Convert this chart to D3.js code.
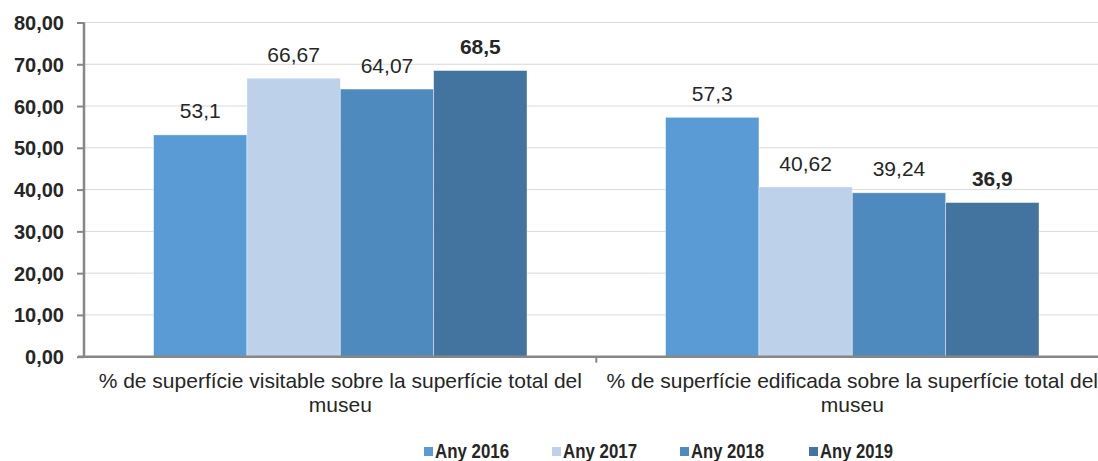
<!DOCTYPE html>
<html><head><meta charset="utf-8">
<script src="https://cdn.jsdelivr.net/npm/d3@7"></script>
<style>
html,body{margin:0;padding:0;background:#fff;}
svg{display:block;font-family:"Liberation Sans",Arial,sans-serif;}
</style></head>
<body>
<svg id="c" width="1098" height="461"></svg>
<script>
const categories = ["% de superfície visitable sobre la superfície total del museu",
                    "% de superfície edificada sobre la superfície total del museu"];
const categoryLines = [["% de superfície visitable sobre la superfície total del", "museu"],
                       ["% de superfície edificada sobre la superfície total del", "museu"]];
const years = ["Any 2016", "Any 2017", "Any 2018", "Any 2019"];
const values2016 = [53.1, 57.3];
const values2017 = [66.67, 40.62];
const values2018 = [64.07, 39.24];
const values2019 = [68.5, 36.9];
const yTicks = [0, 10, 20, 30, 40, 50, 60, 70, 80];
const colors = ["#5B9BD5", "#BDD1EA", "#4F8ABE", "#43739F"];
const boldSeries = [false, false, false, true];

const series = [values2016, values2017, values2018, values2019];
const svg = d3.select("#c");
const W = 1098;
const x0 = d3.scaleBand().domain(categories).range([84.3, 1108.3]);
const x1 = d3.scaleBand().domain(years).range([69.3, x0.bandwidth() - 69.3]);
const y = d3.scaleLinear().domain([0, 80]).range([356.7, 22.5]);

// gridlines
svg.append("g").selectAll("line").data(yTicks.filter(d => d > 0)).join("line")
  .attr("x1", 84).attr("x2", W).attr("y1", d => y(d)).attr("y2", d => y(d))
  .attr("stroke", "#D9D9D9").attr("stroke-width", 1);

// bars
const groups = svg.append("g").selectAll("g").data(categories).join("g")
  .attr("transform", d => `translate(${x0(d)},0)`);
groups.each(function(cat, ci) {
  const g = d3.select(this);
  years.forEach((yr, si) => {
    const v = series[si][ci];
    g.append("rect")
      .attr("x", x1(yr)).attr("width", x1.bandwidth())
      .attr("y", y(v)).attr("height", y(0) - y(v))
      .attr("fill", colors[si]).attr("stroke", "rgba(255,255,255,0.5)").attr("stroke-width", 0.8);
    g.append("text")
      .attr("x", x1(yr) + x1.bandwidth() / 2).attr("y", y(v) - 16.5)
      .attr("text-anchor", "middle").attr("font-size", 21)
      .attr("font-weight", boldSeries[si] ? "bold" : "normal")
      .attr("fill", "#262626")
      .text(String(v).replace(".", ","));
  });
});

// y axis
const yAxis = svg.append("g").attr("transform", "translate(84,0)")
  .call(d3.axisLeft(y).tickValues(yTicks).tickSize(7).tickPadding(13)
    .tickFormat(d => d3.format(".2f")(d).replace(".", ",")));
yAxis.select(".domain").attr("stroke", "#878787").attr("stroke-width", 2.5).attr("d", `M0,${y(80)}V${y(0)}`);
yAxis.selectAll(".tick line").attr("stroke", "#878787").attr("stroke-width", 2);
yAxis.selectAll(".tick text").attr("font-size", 20).attr("font-weight", "bold")
  .attr("fill", "#262626").attr("font-family", '"Liberation Sans",Arial,sans-serif').attr("dy", "0.35em");

// x axis
const xAxisG = svg.append("g");
xAxisG.append("line").attr("x1", 78).attr("x2", W).attr("y1", y(0)).attr("y2", y(0))
  .attr("stroke", "#878787").attr("stroke-width", 2.5);
xAxisG.selectAll("line.tk").data(categories.slice(1)).join("line").attr("class", "tk")
  .attr("x1", d => x0(d)).attr("x2", d => x0(d)).attr("y1", y(0)).attr("y2", y(0) + 6)
  .attr("stroke", "#878787").attr("stroke-width", 2);
xAxisG.selectAll("text").data(categories).join("text")
  .attr("text-anchor", "middle").attr("font-size", 21).attr("fill", "#262626")
  .each(function(d, i) {
    const t = d3.select(this);
    const cx = x0(d) + x0.bandwidth() / 2;
    categoryLines[i].forEach((ln, li) => {
      t.append("tspan").attr("x", cx).attr("y", 388 + li * 24).text(ln);
    });
  });

// legend
const legX = [424, 552, 680, 809];
const legLen = [74, 74, 73, 73];
const leg = svg.append("g");
years.forEach((yr, i) => {
  leg.append("rect").attr("x", legX[i]).attr("y", 447).attr("width", 9).attr("height", 9).attr("fill", colors[i]);
  leg.append("text").attr("x", legX[i] + 11).attr("y", 458)
    .attr("font-size", 19.5).attr("font-weight", "bold").attr("fill", "#262626")
    .attr("textLength", legLen[i]).attr("lengthAdjust", "spacingAndGlyphs")
    .text(yr);
});
</script>
</body></html>
